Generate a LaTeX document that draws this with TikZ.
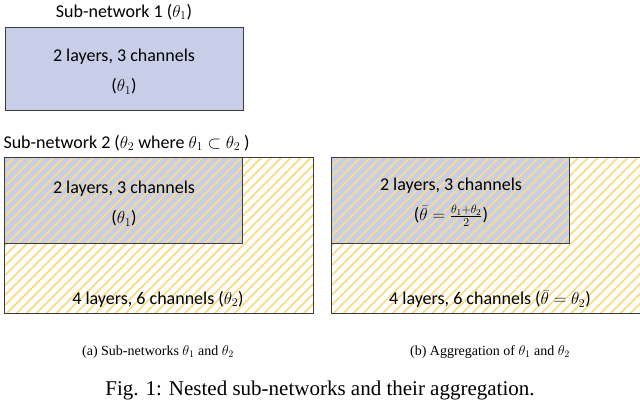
\documentclass[tikz,border=0pt]{standalone}
\usepackage{fontspec}
\setmainfont{Carlito}
\newfontfamily\capfont{Liberation Serif}
\usetikzlibrary{patterns.meta}
\definecolor{netblue}{RGB}{200,206,232}
\definecolor{hatch}{RGB}{248,220,135}
\definecolor{edge}{RGB}{60,60,60}
\tikzset{
  lbl/.style={font=\fontsize{18}{30}\selectfont, align=center},
  sub/.style={font=\capfont\fontsize{14}{16}\selectfont},
  blk/.style={draw=edge, line width=1pt},
  hatched/.style={pattern={Lines[angle=45, distance=7pt, line width=1.8pt]}, pattern color=hatch},
}
\begin{document}
\begin{tikzpicture}[x=1pt, y=-1pt]
\useasboundingbox (0,0) rectangle (640,419);
% sub-network 1
\node[lbl] (t1) at (124,12) {Sub-network 1 ($\theta_1$)};
\filldraw[blk, fill=netblue] (5,28) rectangle (243,111);
\node[lbl] (b1) at (124,72) {2 layers, 3 channels\\($\theta_1$)};
% sub-network 2
\node[lbl, anchor=west] (t2) at (0,143) {Sub-network 2 ($\theta_2$ where $\theta_1\subset\theta_2$ )};
\foreach \dx in {0,327} {
  \fill[netblue] (4+\dx,158) rectangle (242+\dx,244);
  \fill[hatched] (4+\dx,158) rectangle (313+\dx,314);
  \draw[blk] (4+\dx,158) rectangle (313+\dx,314);
  \draw[blk] (4+\dx,244) -- (242+\dx,244) -- (242+\dx,158);
}
\node[lbl] (a1) at (124,204) {2 layers, 3 channels\\($\theta_1$)};
\node[lbl] (a2) at (158,299) {4 layers, 6 channels ($\theta_2$)};
\node[lbl] (c1) at (451,202) {2 layers, 3 channels\\($\bar\theta=\frac{\theta_1+\theta_2}{2}$)};
\node[lbl] (c2) at (490,299) {4 layers, 6 channels ($\bar\theta=\theta_2$)};
% captions
\node[sub] (sa) at (158,352) {(a) Sub-networks $\theta_1$ and $\theta_2$};
\node[sub] (sb) at (490,352) {(b) Aggregation of $\theta_1$ and $\theta_2$};
\node[font=\capfont\fontsize{21}{24}\selectfont] (cap) at (320,390) {Fig. 1: Nested sub-networks and their aggregation.};
\end{tikzpicture}
\end{document}
